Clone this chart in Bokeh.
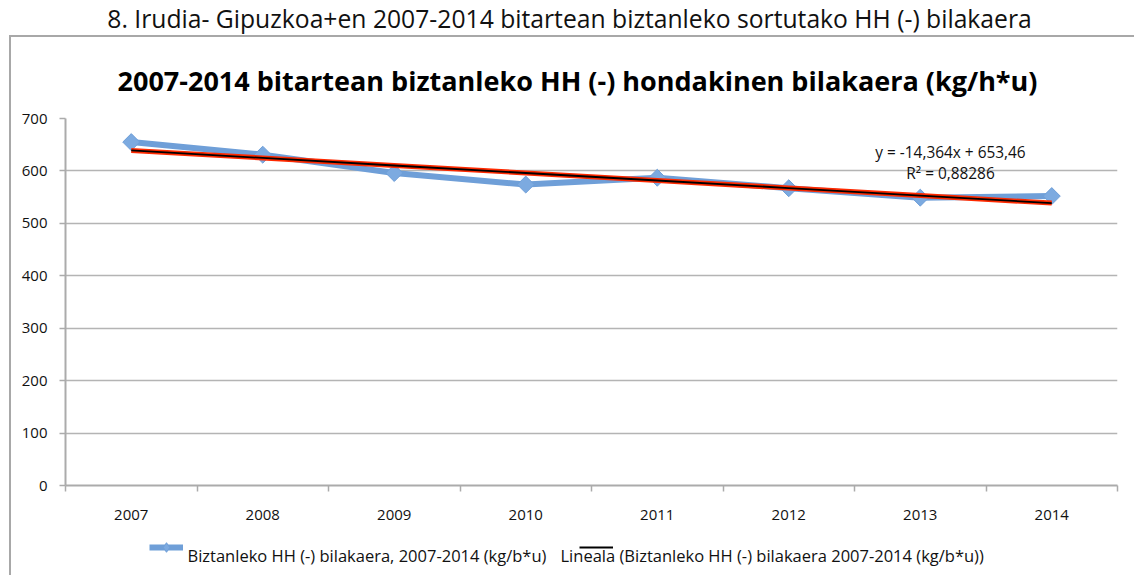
import numpy as np
from bokeh.plotting import figure
from bokeh.layouts import column, row
from bokeh.models import (Range1d, FixedTicker, Label, Legend, LegendItem, Title, Div, Spacer)
from bokeh.core.properties import value
from bokeh.embed import file_html
from bokeh.resources import INLINE

# ---- data ----
years = [2007, 2008, 2009, 2010, 2011, 2012, 2013, 2014]
year_labels = ["2007", "2008", "2009", "2010", "2011", "2012", "2013", "2014"]
waste = [655, 631, 596, 574, 587, 567, 549, 552]
y_ticks = [0, 100, 200, 300, 400, 500, 600, 700]
caption = "8. Irudia- Gipuzkoa+en 2007-2014 bitartean biztanleko sortutako HH (-) bilakaera"
title = "2007-2014 bitartean biztanleko HH (-) hondakinen bilakaera (kg/h*u)"
series_name = "Biztanleko HH (-) bilakaera, 2007-2014 (kg/b*u)"
trend_name = "Lineala (Biztanleko HH (-) bilakaera 2007-2014 (kg/b*u))"
equation = ["y = -14,364x + 653,46", "R² = 0,88286"]

# linear trend computed from the series
idx = np.arange(1, len(years) + 1)
slope, intercept = np.polyfit(idx, waste, 1)
trend = list(slope * idx + intercept)

SANS = "Open Sans"
GRAY = "#ababab"
BOX = "#a8a8a8"
BLUE = "#6f9fd8"
BLUE_FILL = "#7caae0"
RED = "#ff2a00"
TXT = "#111111"

FRAME_L, FRAME_R = 54, 17   # plot-area borders inside the chart box


def bare(fig):
    fig.outline_line_color = None
    fig.xgrid.visible = False
    fig.ygrid.visible = False
    return fig


# ---- caption strip (above the chart box) ----
cap_fig = bare(figure(width=1134, height=35, output_backend="svg", toolbar_location=None,
                      x_range=Range1d(0, 1), y_range=Range1d(0, 1),
                      x_axis_location=None, y_axis_location=None, min_border=0))
cap_fig.add_layout(Label(x=569, y=17, x_units="screen", y_units="screen", text=caption,
                         text_align="center", text_baseline="alphabetic",
                         text_font=SANS, text_font_size="24.7px", text_color=TXT))

# ---- main chart ----
p = figure(width=1123, height=495, output_backend="svg", toolbar_location=None,
           x_range=Range1d(2006.5, 2014.5), y_range=Range1d(0, 700),
           min_border_left=FRAME_L, min_border_right=FRAME_R, min_border_top=81,
           min_border_bottom=47)
p.outline_line_color = None

p.xaxis.ticker = FixedTicker(ticks=years,
                             minor_ticks=[y - 0.5 for y in years] + [years[-1] + 0.5])
p.xaxis.major_label_overrides = {y: l for y, l in zip(years, year_labels)}
p.xaxis.major_tick_line_color = None
p.xaxis.major_tick_out = 0
p.xaxis.major_tick_in = 0
p.xaxis.minor_tick_out = 6
p.xaxis.minor_tick_in = 0
p.xaxis.minor_tick_line_color = GRAY
p.xaxis.minor_tick_line_width = 1.5
p.xaxis.axis_line_color = GRAY
p.xaxis.axis_line_width = 2
p.xaxis.major_label_standoff = 18
p.xaxis.major_label_text_font = SANS
p.xaxis.major_label_text_font_size = "15px"
p.xaxis.major_label_text_color = TXT
p.xgrid.visible = False

p.yaxis.ticker = FixedTicker(ticks=y_ticks)
p.yaxis.minor_tick_line_color = None
p.yaxis.major_tick_out = 6
p.yaxis.major_tick_in = 0
p.yaxis.major_tick_line_color = GRAY
p.yaxis.major_tick_line_width = 1.5
p.yaxis.axis_line_color = GRAY
p.yaxis.axis_line_width = 2
p.yaxis.major_label_standoff = 12
p.yaxis.major_label_text_font = SANS
p.yaxis.major_label_text_font_size = "15px"
p.yaxis.major_label_text_color = TXT
p.ygrid.grid_line_color = "#b4b4b4"
p.ygrid.grid_line_width = 1.5

blue_line = p.line(years, waste, line_color=BLUE, line_width=6)
blue_pts = p.scatter(years, waste, marker="square", angle=np.pi / 4, size=12,
                     fill_color=BLUE_FILL, line_color=BLUE, line_width=1)
red_line = p.line(years, trend, line_color=RED, line_width=5)
black_line = p.line(years, trend, line_color="black", line_width=1.8)

p.add_layout(Title(text=title, align="left", offset=52, standoff=40,
                   text_font=SANS, text_font_size="27px", text_font_style="bold",
                   text_color="#000000"), "above")

p.add_layout(Label(x=885, y=333, x_units="screen", y_units="screen", text=equation[0],
                   text_align="center", text_baseline="alphabetic",
                   text_font=SANS, text_font_size="15.4px", text_color=TXT))
p.add_layout(Label(x=885, y=312, x_units="screen", y_units="screen", text=equation[1],
                   text_align="center", text_baseline="alphabetic",
                   text_font=SANS, text_font_size="15.4px", text_color=TXT))

# ---- legend strip (frame aligned with the plot area above) ----
leg_fig = bare(figure(width=1123, height=43, output_backend="svg", toolbar_location=None,
                      x_range=Range1d(0, 1), y_range=Range1d(0, 1),
                      x_axis_location=None, y_axis_location=None,
                      min_border_left=FRAME_L, min_border_right=FRAME_R,
                      min_border_top=0, min_border_bottom=0))
# legend-only renderers: the series itself lies outside this strip's ranges
lg_blue_line = leg_fig.line(years, waste, line_color=BLUE, line_width=6)
lg_blue_pts = leg_fig.scatter(years, waste, marker="diamond", size=8,
                              fill_color=BLUE_FILL, line_color=BLUE)
lg_black = leg_fig.line(years, trend, line_color="black", line_width=1.8)

leg_fig.add_layout(Label(x=187 - 65, y=20, x_units="screen", y_units="screen",
                         text=series_name, text_align="left", text_baseline="alphabetic",
                         text_font=SANS, text_font_size="16.5px", text_color=TXT))
leg_fig.add_layout(Label(x=560 - 65, y=20, x_units="screen", y_units="screen",
                         text=trend_name, text_align="left", text_baseline="alphabetic",
                         text_font=SANS, text_font_size="16.5px", text_color=TXT))

leg_common = dict(orientation="horizontal", glyph_width=34, glyph_height=24,
                  label_text_font_size="1px", padding=0, margin=0, spacing=0,
                  label_standoff=0, border_line_color=None, background_fill_alpha=0,
                  inactive_fill_alpha=0)
leg_fig.add_layout(Legend(items=[LegendItem(label=value(" "),
                                            renderers=[lg_blue_line, lg_blue_pts])],
                          location=(149 - 65, 16), **leg_common))
leg_fig.add_layout(Legend(items=[LegendItem(label=value(" "), renderers=[lg_black])],
                          location=(579 - 65, 16), **leg_common))

# ---- chart box borders and assembly ----
top_line = Div(width=1125, height=2, margin=0, styles={"background-color": BOX})
left_line = Div(width=2, height=538, margin=0, styles={"background-color": BOX})
layout = column(
    cap_fig,
    row(Spacer(width=9, height=2, margin=0), top_line),
    row(Spacer(width=9, height=538, margin=0), left_line, column(p, leg_fig)),
)

open("out.html", "w").write(file_html(layout, INLINE))
